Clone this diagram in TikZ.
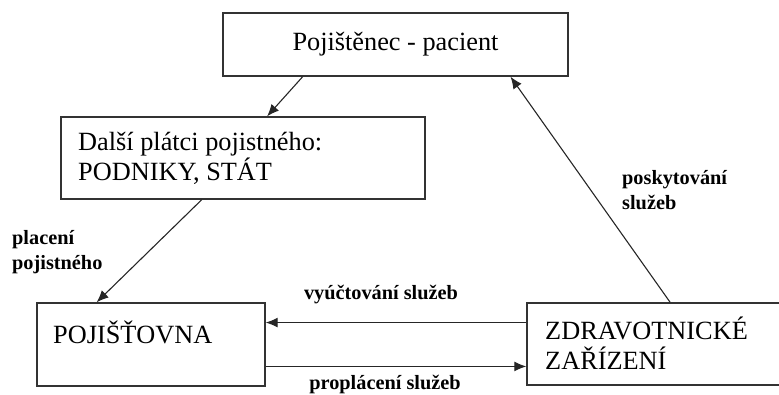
\documentclass[tikz,border=0pt]{standalone}
\usepackage{fontspec}
\setmainfont{Liberation Serif}
\usetikzlibrary{arrows.meta,calc}

\tikzset{
  box/.style={draw=black!80, line width=1.4pt, rectangle, inner sep=0pt},
  boxtext/.style={font=\fontsize{26.3}{30}\selectfont, inner sep=0pt, align=left},
  flowlabel/.style={font=\bfseries\fontsize{20.3}{25}\selectfont, inner sep=0pt, align=left},
  flow/.style={draw=black!85, line width=1.1pt, -{Latex[length=12pt,width=10pt]}},
}

\begin{document}
\begin{tikzpicture}[x=1pt,y=-1pt]
  \useasboundingbox (0,0) rectangle (779,394);

  % boxes
  \node[box, minimum width=345pt, minimum height=63pt] (top) at (395.5,44.5) {};
  \node[boxtext, anchor=center] (toptext) at (top.center) {Pojištěnec - pacient};

  \node[box, minimum width=364pt, minimum height=82pt] (payers) at (243,158) {};
  \node[boxtext, anchor=west] (payerstext) at (78,158) {Další plátci pojistného:\\PODNIKY, STÁT};

  \node[box, minimum width=228pt, minimum height=83pt] (insurer) at (151,344.5) {};
  \node[boxtext, anchor=west] (insurertext) at (53,332) {POJIŠŤOVNA};

  \node[box, minimum width=263pt, minimum height=82pt] (provider) at (658.5,344) {};
  \node[boxtext, anchor=west] (providertext) at (545,343) {ZDRAVOTNICKÉ\\ZAŘÍZENÍ};

  % connector end points on the box borders
  \coordinate (t1) at ($(top.south west)!0.232!(top.south east)$);
  \coordinate (t2) at ($(top.south west)!0.832!(top.south east)$);
  \coordinate (p1) at ($(payers.north west)!0.566!(payers.north east)$);
  \coordinate (p2) at ($(payers.south west)!0.387!(payers.south east)$);
  \coordinate (i1) at ($(insurer.north west)!0.263!(insurer.north east)$);
  \coordinate (i2) at ($(insurer.north east)!0.24!(insurer.south east)$);
  \coordinate (i3) at ($(insurer.north east)!0.76!(insurer.south east)$);
  \coordinate (z1) at ($(provider.north west)!0.544!(provider.north east)$);

  % connectors
  \draw[flow] (t1) -- (p1);
  \draw[flow] (p2) -- (i1);
  \draw[flow] (provider.west |- i2) -- (i2);
  \draw[flow] (i3) -- (provider.west |- i3);
  \draw[flow] (z1) -- (t2);

  % connector labels
  \node[flowlabel, anchor=west] (lpay) at (12,252.5) {placení\\pojistného};
  \node[flowlabel] (lbill) at (381,295) {vyúčtování služeb};
  \node[flowlabel] (lreimb) at (385,384) {proplácení služeb};
  \node[flowlabel, anchor=west] (lcare) at (622,190.5) {poskytování\\služeb};
\end{tikzpicture}
\end{document}
